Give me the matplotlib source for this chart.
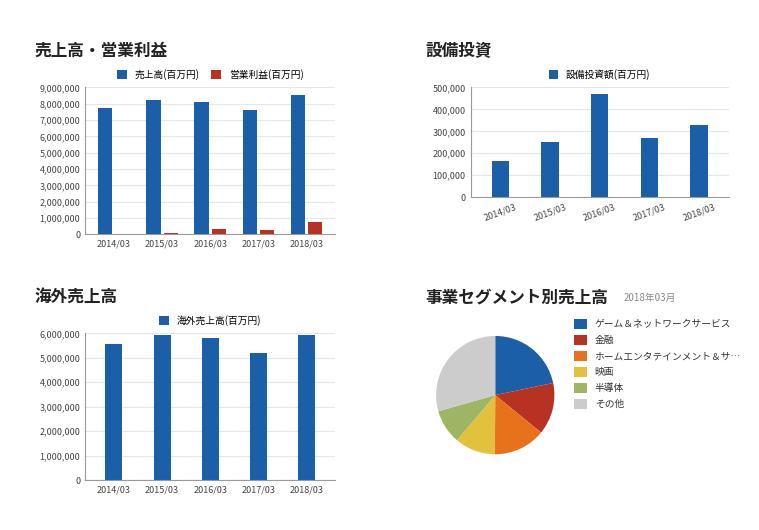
import matplotlib.pyplot as plt
import numpy as np

plt.rcParams['font.family'] = 'Noto Sans CJK JP'

years = ['2014/03', '2015/03', '2016/03', '2017/03', '2018/03']
sales = [7767000, 8216000, 8106000, 7603000, 8544000]
op_profit = [26000, 68000, 294000, 288000, 735000]
capex = [165000, 250000, 470000, 270000, 330000]
overseas = [5550000, 5950000, 5800000, 5200000, 5920000]
seg_labels = ['ゲーム＆ネットワークサービス', '金融', 'ホームエンタテインメント＆サ…', '映画', '半導体', 'その他']
seg_share = [21.7, 14.2, 14.2, 11.1, 9.4, 29.4]

BLUE = '#1a5fa8'
RED = '#b83224'
seg_colors = [BLUE, RED, '#e8711c', '#e2c23c', '#9db565', '#cccccc']


def style(ax, top, step):
    ax.set_ylim(0, top)
    ax.set_yticks(np.arange(0, top + 1, step))
    ax.yaxis.set_major_formatter(plt.FuncFormatter(lambda v, p: f'{int(v):,}'))
    ax.tick_params(labelsize=6.5, colors='#444444', length=0)
    ax.grid(axis='y', color='#e6e6e6', linewidth=0.8)
    ax.set_axisbelow(True)
    for s in ['top', 'right']:
        ax.spines[s].set_visible(False)
    ax.spines['left'].set_color('#999999')
    ax.spines['bottom'].set_color('#999999')


fig = plt.figure(figsize=(7.59, 5.30), dpi=100)
x = np.arange(len(years))

# 売上高・営業利益
ax1 = fig.add_axes([0.112, 0.558, 0.33, 0.277])
ax1.bar(x - 0.18, sales, 0.3, color=BLUE, label='売上高(百万円)')
ax1.bar(x + 0.18, op_profit, 0.3, color=RED, label='営業利益(百万円)')
style(ax1, 9000000, 1000000)
ax1.set_xticks(x, years)
ax1.set_xlim(-0.6, 4.6)
ax1.legend(loc='lower center', bbox_to_anchor=(0.5, 0.99), ncol=2, fontsize=7,
           frameon=False, handlelength=1, handleheight=1, columnspacing=1.2)
fig.text(0.045, 0.895, '売上高・営業利益', fontsize=12, fontweight='bold', color='#222222')

# 設備投資
ax2 = fig.add_axes([0.62, 0.628, 0.34, 0.207])
ax2.bar(x, capex, 0.35, color=BLUE, label='設備投資額(百万円)')
style(ax2, 500000, 100000)
ax2.set_xticks(x, years, rotation=20)
ax2.set_xlim(-0.6, 4.6)
ax2.legend(loc='lower center', bbox_to_anchor=(0.5, 0.99), fontsize=7,
           frameon=False, handlelength=1, handleheight=1)
fig.text(0.56, 0.895, '設備投資', fontsize=12, fontweight='bold', color='#222222')

# 海外売上高
ax3 = fig.add_axes([0.112, 0.094, 0.33, 0.277])
ax3.bar(x, overseas, 0.35, color=BLUE, label='海外売上高(百万円)')
style(ax3, 6000000, 1000000)
ax3.set_xticks(x, years)
ax3.set_xlim(-0.6, 4.6)
ax3.legend(loc='lower center', bbox_to_anchor=(0.5, 0.99), fontsize=7,
           frameon=False, handlelength=1, handleheight=1)
fig.text(0.045, 0.43, '海外売上高', fontsize=12, fontweight='bold', color='#222222')

# 事業セグメント別売上高
ax4 = fig.add_axes([0.555, 0.115, 0.195, 0.279])
wedges, _ = ax4.pie(seg_share, colors=seg_colors, startangle=90, counterclock=False)
ax4.set_aspect('equal')
fig.legend(wedges, seg_labels, loc='upper left', bbox_to_anchor=(0.745, 0.415), fontsize=7,
           frameon=False, handlelength=1.3, handleheight=1.3, labelspacing=0.55,
           labelcolor='#333333')
fig.text(0.56, 0.43, '事業セグメント別売上高', fontsize=12, fontweight='bold', color='#222222')
fig.text(0.822, 0.432, '2018年03月', fontsize=7, color='#888888')

fig.savefig('out.png', dpi=100)
